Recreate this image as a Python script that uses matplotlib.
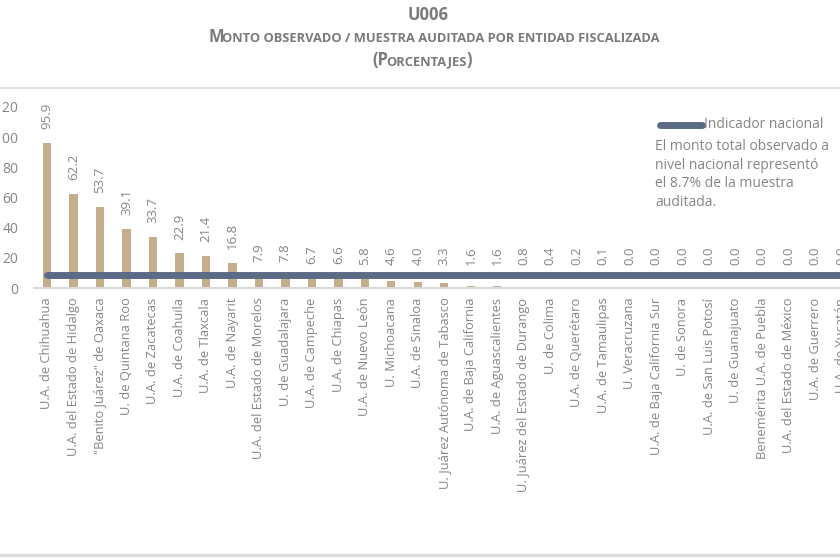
import numpy as np
import matplotlib
matplotlib.use("Agg")
import matplotlib.pyplot as plt
from matplotlib.lines import Line2D

plt.rcParams['font.family'] = ['Open Sans', 'DejaVu Sans']

# data
entidades = [
    "U.A. de Chihuahua", "U.A. del Estado de Hidalgo", "\"Benito Juárez\" de Oaxaca",
    "U. de Quintana Roo", "U.A. de Zacatecas", "U.A. de Coahuila", "U.A. de Tlaxcala",
    "U.A. de Nayarit", "U.A. del Estado de Morelos", "U. de Guadalajara",
    "U.A. de Campeche", "U.A. de Chiapas", "U.A. de Nuevo León", "U. Michoacana",
    "U.A. de Sinaloa", "U. Juárez Autónoma de Tabasco", "U.A. de Baja California",
    "U.A. de Aguascalientes", "U. Juárez del Estado de Durango", "U. de Colima",
    "U.A. de Querétaro", "U.A. de Tamaulipas", "U. Veracruzana",
    "U.A. de Baja California Sur", "U. de Sonora", "U.A. de San Luis Potosí",
    "U. de Guanajuato", "Benemérita U.A. de Puebla", "U.A. del Estado de México",
    "U.A. de Guerrero", "U.A. de Yucatán",
]
porcentajes = [95.9, 62.2, 53.7, 39.1, 33.7, 22.9, 21.4, 16.8, 7.9, 7.8, 6.7, 6.6,
               5.8, 4.6, 4.0, 3.3, 1.6, 1.6, 0.8, 0.4, 0.2, 0.1, 0.0, 0.0, 0.0,
               0.0, 0.0, 0.0, 0.0, 0.0, 0.0]
indicador_nacional = 8.7
y_ticks = [0, 20, 40, 60, 80, 100, 120]

bar_color = "#c4ae8c"
line_color = "#5b6b86"
txt_gray = "#868686"

W, H = 840, 560
fig = plt.figure(figsize=(W / 100, H / 100), dpi=100)

# axes runs past the right edge like in the cropped original
x_left, x_right = 33.75, 855.0
y_bot, y_top = 288.0, 107.0
ax = fig.add_axes([x_left / W, 1 - y_bot / H, (x_right - x_left) / W, (y_bot - y_top) / H])

x = np.arange(len(entidades))
ax.bar(x, porcentajes, width=0.31, color=bar_color, zorder=2)
ax.plot([x[0], x[-1] + 1], [indicador_nacional] * 2, color=line_color, lw=5,
        solid_capstyle='round', zorder=3)

for xi, v in zip(x, porcentajes):
    ax.annotate(f"{v:.1f}", xy=(xi, max(v, 6)), xytext=(0, 10), textcoords='offset points',
                rotation=90, ha='center', va='bottom', color=txt_gray, fontsize=9.5)

ax.set_xlim(-0.5, len(entidades) - 0.5)
ax.set_ylim(0, 120)
ax.set_yticks(y_ticks)
ax.set_yticklabels([str(t) for t in y_ticks])
ax.set_xticks(x)
ax.set_xticklabels(entidades, rotation=90, va='top', ha='center')
ax.tick_params(axis='x', length=0, pad=7, labelsize=9.3, labelcolor=txt_gray)
ax.tick_params(axis='y', length=0, pad=11, labelsize=10, labelcolor=txt_gray)
for s in ['top', 'right', 'left']:
    ax.spines[s].set_visible(False)
ax.spines['bottom'].set_color("#d9d9d9")
ax.spines['bottom'].set_linewidth(1.5)
ax.patch.set_alpha(0)

# frame lines
fig.add_artist(Line2D([0, 1], [1 - 88 / H] * 2, color="#dedede", lw=1.2))
fig.add_artist(Line2D([0, 1], [1 - 555 / H] * 2, color="#dedede", lw=2.5))

# title
fig.text(428 / W, 1 - 15 / H, "U006", ha='center', va='center', fontsize=12,
         fontweight='bold', color="#7a7a7a")

BIG, SMALL = 12, 9.3


def small_caps(pieces, cx, cy, fudge=2.0):
    # fake small caps: pieces of text of two sizes laid side by side
    renderer = fig.canvas.get_renderer()
    texts = []
    for s, size in pieces:
        t = fig.text(0, 1 - cy / H, s, fontsize=size, fontweight='bold', color="#7a7a7a",
                     ha='left', va='baseline')
        texts.append(t)
    widths = [t.get_window_extent(renderer).width - (fudge if size == BIG else 0)
              for t, (s, size) in zip(texts, pieces)]
    x0 = cx - sum(widths) / 2
    for t, w in zip(texts, widths):
        t.set_x(x0 / W)
        x0 += w


small_caps([("M", BIG), ("ONTO OBSERVADO / MUESTRA AUDITADA POR ENTIDAD FISCALIZADA", SMALL)], 434, 42)
small_caps([("(P", BIG), ("ORCENTAJES", SMALL), (")", BIG)], 421, 65)

# legend + note
fig.add_artist(Line2D([660 / W, 702 / W], [1 - 125 / H] * 2, color=line_color, lw=5,
                      solid_capstyle='round'))
fig.text(704 / W, 1 - 125 / H, "Indicador nacional", ha='left', va='center',
         fontsize=10, color=txt_gray)
note = ["El monto total observado a", "nivel nacional representó",
        "el 8.7% de la muestra", "auditada."]
for i, line in enumerate(note):
    fig.text(655 / W, 1 - (146 + i * 19) / H, line, ha='left', va='center',
             fontsize=10, color=txt_gray)

plt.savefig("out.png", dpi=100)
